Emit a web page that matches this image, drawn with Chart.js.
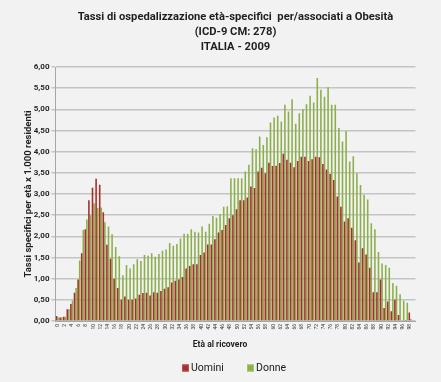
<!DOCTYPE html>
<html><head><meta charset="utf-8">
<script src="https://cdn.jsdelivr.net/npm/chart.js@4/dist/chart.umd.min.js"></script>
<style>
html,body{margin:0;padding:0;background:#f2f2f2;}
#wrap{position:relative;width:441px;height:382px;background:#f2f2f2;}
canvas{display:block;}
</style></head>
<body><div id="wrap"><canvas id="c" width="441" height="382"></canvas></div>
<script>
const titleLines = ["Tassi di ospedalizzazione età-specifici  per/associati a Obesità", "(ICD-9 CM: 278)", "ITALIA - 2009"];
const yTitle = "Tassi specifici per età x 1.000 residenti";
const xTitle = "Età al ricovero";
const seriesNames = ["Uomini", "Donne"];
const ages = [];
for (let a = 0; a <= 99; a++) ages.push(String(a));
const uomini = [0.12,0.08,0.10,0.28,0.40,0.67,0.98,1.60,2.17,2.85,3.15,3.36,3.22,2.57,1.80,1.47,1.00,0.78,0.50,0.58,
0.50,0.50,0.53,0.62,0.66,0.67,0.60,0.68,0.67,0.71,0.76,0.80,0.91,0.95,0.98,1.04,1.24,1.30,1.34,1.34,
1.56,1.62,1.81,1.81,1.93,2.09,2.15,2.27,2.43,2.50,2.64,2.85,2.85,2.92,3.18,3.14,3.53,3.62,3.49,3.74,
3.66,3.67,3.73,3.95,3.81,3.74,3.63,3.78,3.88,3.88,3.78,3.82,3.88,3.87,3.71,3.58,3.47,3.33,2.94,2.70,
2.35,2.43,2.20,1.91,1.38,1.72,1.57,1.26,0.68,0.68,0.98,0.31,0.46,0.23,0.50,0.14,0.02,0.01,0.20,0.00];
const donne = [0.09,0.09,0.10,0.28,0.48,0.78,1.43,2.15,2.40,2.50,2.78,2.67,2.68,2.33,2.23,2.05,1.75,1.53,1.08,1.32,
1.24,1.34,1.46,1.42,1.56,1.54,1.60,1.52,1.58,1.66,1.69,1.84,1.78,1.82,1.95,2.06,2.06,2.17,2.11,2.09,
2.23,2.11,2.30,2.48,2.44,2.53,2.70,2.71,3.37,3.37,3.37,3.37,3.53,3.69,4.08,4.06,4.36,4.16,4.34,4.69,
4.81,4.85,4.71,5.11,4.95,5.24,4.66,4.91,5.00,5.12,5.32,5.16,5.74,5.46,5.30,5.52,5.11,5.11,4.56,4.24,
4.48,3.77,3.89,3.49,3.21,2.98,2.87,2.31,2.17,1.63,1.36,1.32,1.26,0.90,0.83,0.63,0.48,0.43,0.05,0.00];
const yTicks = {min:0, max:6, step:0.5};

const textPlugin = {
  id: 'texts',
  afterDraw(chart) {
    const ctx = chart.ctx, ca = chart.chartArea;
    ctx.save();
    ctx.fillStyle = '#1f1f1f';
    ctx.textAlign = 'center';
    ctx.textBaseline = 'middle';
    ctx.font = 'bold 11.2px Roboto';
    const cx = (ca.left + ca.right) / 2;
    titleLines.forEach((t, i) => ctx.fillText(t, cx, 17 + i * 15));
    ctx.font = 'bold 8.5px Roboto';
    ctx.fillText(xTitle, 220, 345);
    ctx.save();
    ctx.translate(29, (ca.top + ca.bottom) / 2);
    ctx.rotate(-Math.PI / 2);
    ctx.font = 'bold 9.5px Roboto';
    ctx.fillText(yTitle, 0, 0);
    ctx.restore();
    // legend
    const lx = [182, 247];
    ctx.font = '10.5px Roboto';
    ctx.textAlign = 'left';
    chart.data.datasets.forEach((ds, i) => {
      ctx.fillStyle = ds.backgroundColor;
      ctx.fillRect(lx[i], 364.5, 7, 7);
      ctx.strokeStyle = ds.borderColor;
      ctx.lineWidth = 1;
      ctx.strokeRect(lx[i] + 0.5, 365, 6, 6);
      ctx.fillStyle = '#1a1a1a';
      ctx.fillText(ds.label, lx[i] + 9, 368.5);
    });
    ctx.restore();
  }
};

new Chart(document.getElementById('c'), {
  type: 'bar',
  data: {
    labels: ages,
    datasets: [
      {label: seriesNames[0], data: uomini, backgroundColor: '#a52f2a', borderColor: '#c0504d', borderWidth: 0},
      {label: seriesNames[1], data: donne, backgroundColor: '#8caf4c', borderColor: '#a4c266', borderWidth: 0}
    ]
  },
  plugins: [textPlugin],
  options: {
    responsive: false,
    animation: false,
    layout: {padding: {left: 0, right: 25.5, top: 67, bottom: 0}},
    datasets: {bar: {categoryPercentage: 0.88, barPercentage: 1.0}},
    plugins: {
      title: {display: false},
      legend: {display: false},
      tooltip: {enabled: false}
    },
    scales: {
      x: {
        afterFit: function(s){ s.height = 61; },
        grid: {display: false, drawTicks: false},
        border: {display: true, color: '#a6a6a6'},
        ticks: {autoSkip: false, minRotation: 90, maxRotation: 90, padding: 3, color: '#333', font: {family: 'Roboto', size: 5},
          callback: function(v, i){ return i % 2 === 0 ? ages[i] : ''; }},
        title: {display: false}
      },
      y: {
        min: yTicks.min, max: yTicks.max,
        afterFit: function(s){ s.width = 55.5; },
        grid: {color: '#c4c4c4', lineWidth: 1.5, tickLength: 4},
        border: {display: true, color: '#a6a6a6'},
        ticks: {stepSize: yTicks.step, color: '#262626', font: {family: 'Roboto', weight: 'bold', size: 8}, padding: 2,
          callback: function(v){ return v.toFixed(2).replace('.', ','); }},
        title: {display: false}
      }
    }
  }
});
</script></body></html>
